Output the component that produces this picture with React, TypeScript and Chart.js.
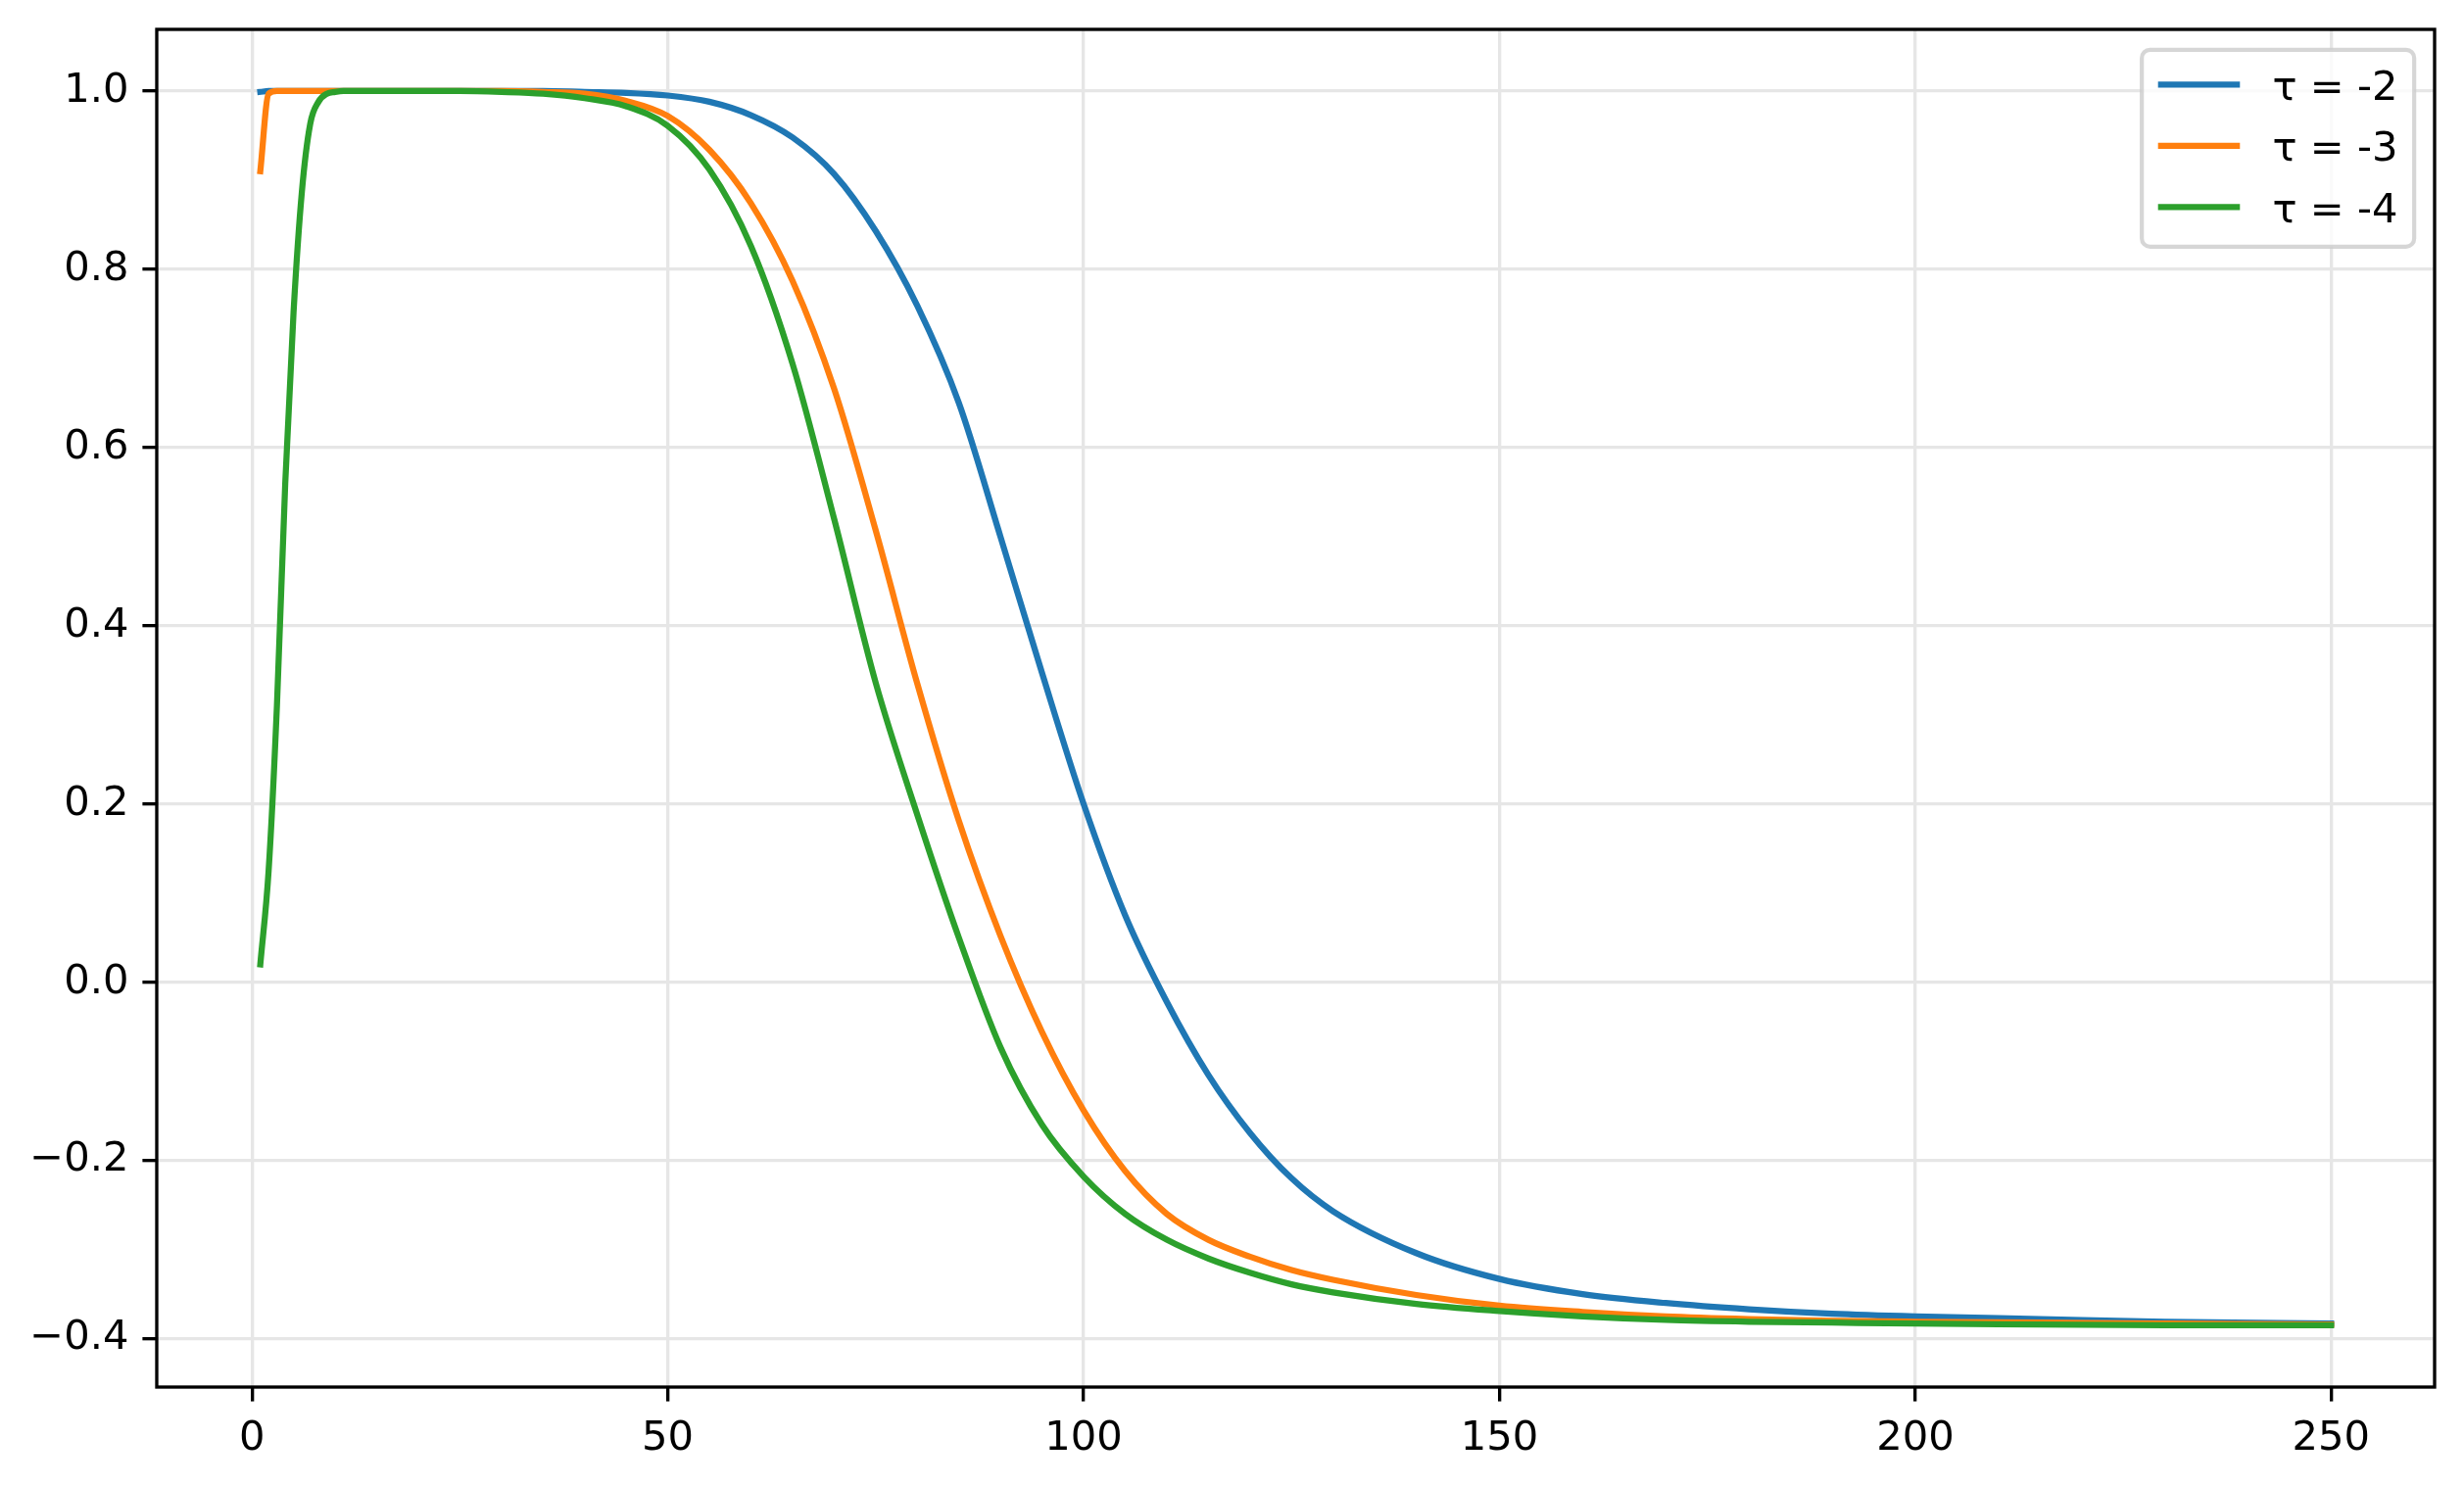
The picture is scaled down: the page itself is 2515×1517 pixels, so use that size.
import React, { useEffect, useRef } from "react";
import { Chart, registerables } from "chart.js";

Chart.register(...registerables);

// ---------- data ----------
const xValues = [1, 2, 3, 4, 5, 6, 7, 8, 9, 10, 11, 12, 15, 20, 25, 30, 35, 40, 45, 50, 55, 60, 65, 70, 75, 80, 85, 90, 95, 100, 105, 110, 115, 120, 125, 130, 140, 150, 160, 170, 180, 190, 200, 215, 230, 250];

const tauMinus2 = [0.999, 1, 1, 1, 1, 1, 1, 1, 1, 1, 1, 1, 1, 1, 1, 1, 1.0, 0.999, 0.998, 0.995, 0.988, 0.973, 0.948, 0.907, 0.843, 0.759, 0.65, 0.5, 0.347, 0.2, 0.075, -0.022, -0.104, -0.169, -0.22, -0.257, -0.304, -0.333, -0.35, -0.36, -0.367, -0.372, -0.375, -0.378, -0.381, -0.383];

const tauMinus3 = [0.91, 0.997, 1, 1, 1, 1, 1, 1, 1, 1, 1, 1, 1, 1, 1, 1, 0.999, 0.997, 0.989, 0.972, 0.934, 0.874, 0.787, 0.666, 0.507, 0.335, 0.181, 0.052, -0.056, -0.144, -0.212, -0.26, -0.289, -0.308, -0.323, -0.334, -0.351, -0.363, -0.37, -0.375, -0.378, -0.38, -0.381, -0.382, -0.383, -0.384];

const tauMinus4 = [0.02, 0.125, 0.31, 0.56, 0.752, 0.887, 0.963, 0.988, 0.997, 0.999, 1, 1, 1, 1, 1, 0.999, 0.997, 0.992, 0.983, 0.961, 0.912, 0.826, 0.694, 0.52, 0.336, 0.188, 0.05, -0.073, -0.16, -0.218, -0.26, -0.289, -0.31, -0.326, -0.339, -0.348, -0.361, -0.369, -0.375, -0.379, -0.381, -0.382, -0.383, -0.384, -0.385, -0.385];

const seriesLabels = ["τ = -2", "τ = -3", "τ = -4"];
const seriesColors = ["#1f77b4", "#ff7f0e", "#2ca02c"];
const xTickValues = [0, 50, 100, 150, 200, 250];
const yTickValues = [-0.4, -0.2, 0, 0.2, 0.4, 0.6, 0.8, 1.0];

// ---------- layout constants ----------
const W = 2515;
const H = 1517;
const FS = 41.67;
const FONT_FAMILY = "'DejaVu Sans', sans-serif";

const framePlugin = {
  id: "frame",
  afterDatasetsDraw(chart: any) {
    const { ctx, chartArea } = chart;
    ctx.save();
    ctx.strokeStyle = "#000";
    ctx.lineWidth = 3.33;
    ctx.lineJoin = "miter";
    ctx.strokeRect(chartArea.left, chartArea.top, chartArea.right - chartArea.left, chartArea.bottom - chartArea.top);
    ctx.restore();
  },
};

const legendPlugin = {
  id: "innerLegend",
  afterDraw(chart: any) {
    const { ctx, chartArea } = chart;
    const datasets = chart.data.datasets;
    ctx.save();
    ctx.font = `${FS}px ${FONT_FAMILY}`;
    const maxText = Math.max(...datasets.map((d: any) => ctx.measureText(d.label).width));
    const borderPad = 0.4 * FS;
    const handleLen = 2.0 * FS;
    const handleTextPad = 0.8 * FS;
    const boxW = borderPad + handleLen + handleTextPad + maxText + borderPad;
    const boxH = 201;
    const right = chartArea.right - 0.5 * FS;
    const top = chartArea.top + 0.5 * FS;
    const left = right - boxW;
    const r = 0.2 * FS;

    ctx.beginPath();
    ctx.moveTo(left + r, top);
    ctx.lineTo(right - r, top);
    ctx.arcTo(right, top, right, top + r, r);
    ctx.lineTo(right, top + boxH - r);
    ctx.arcTo(right, top + boxH, right - r, top + boxH, r);
    ctx.lineTo(left + r, top + boxH);
    ctx.arcTo(left, top + boxH, left, top + boxH - r, r);
    ctx.lineTo(left, top + r);
    ctx.arcTo(left, top, left + r, top, r);
    ctx.closePath();
    ctx.fillStyle = "rgba(255,255,255,0.8)";
    ctx.fill();
    ctx.strokeStyle = "rgba(204,204,204,0.8)";
    ctx.lineWidth = 4.17;
    ctx.stroke();

    datasets.forEach((d: any, i: number) => {
      const cy = top + 35.5 + i * 62.5;
      ctx.beginPath();
      ctx.strokeStyle = d.borderColor;
      ctx.lineWidth = 6.25;
      ctx.lineCap = "square";
      ctx.moveTo(left + borderPad + 3, cy);
      ctx.lineTo(left + borderPad + handleLen - 3, cy);
      ctx.stroke();
      ctx.fillStyle = "#000";
      ctx.textBaseline = "alphabetic";
      ctx.textAlign = "left";
      ctx.fillText(d.label, left + borderPad + handleLen + handleTextPad, cy + 0.3645 * FS);
    });
    ctx.restore();
  },
};

export default function App() {
  const canvasRef = useRef<HTMLCanvasElement | null>(null);

  useEffect(() => {
    document.body.style.margin = "0";
    document.body.style.overflow = "hidden";
    const canvas = canvasRef.current;
    if (!canvas) return;
    const series = [tauMinus2, tauMinus3, tauMinus4];
    const chart = new Chart(canvas, {
      type: "line",
      data: {
        datasets: series.map((vals, i) => ({
          label: seriesLabels[i],
          data: xValues.map((x, j) => ({ x, y: vals[j] })),
          borderColor: seriesColors[i],
          backgroundColor: seriesColors[i],
          borderWidth: 6.25,
          pointRadius: 0,
          pointHoverRadius: 0,
          fill: false,
          cubicInterpolationMode: "monotone",
          borderCapStyle: "square",
          borderJoinStyle: "round",
          order: series.length - i,
        })),
      },
      options: {
        responsive: false,
        animation: false,
        devicePixelRatio: 1,
        events: [],
        layout: { padding: { top: 30, right: 30, left: 0, bottom: 0 } },
        plugins: {
          legend: { display: false },
          tooltip: { enabled: false },
        },
        scales: {
          x: {
            type: "linear",
            min: -11.45,
            max: 262.45,
            afterBuildTicks: (s: any) => {
              s.ticks = xTickValues.map((v) => ({ value: v }));
            },
            afterFit: (s: any) => {
              s.height = H - 1416;
              s.paddingLeft = 0;
              s.paddingRight = 0;
            },
            ticks: {
              color: "#000",
              font: { family: FONT_FAMILY, size: FS },
              padding: 14,
              maxRotation: 0,
              autoSkip: false,
              callback: (v: any) => String(v),
            },
            grid: {
              color: "#e6e6e6",
              lineWidth: 3.33,
              drawTicks: true,
              tickLength: 14.6,
              tickColor: "#000",
              tickWidth: 3.33,
            },
            border: { display: false },
          },
          y: {
            type: "linear",
            min: -0.4543,
            max: 1.0692,
            afterBuildTicks: (s: any) => {
              s.ticks = yTickValues.map((v) => ({ value: v }));
            },
            afterFit: (s: any) => {
              s.width = 160;
              s.paddingTop = 0;
              s.paddingBottom = 0;
            },
            ticks: {
              color: "#000",
              font: { family: FONT_FAMILY, size: FS },
              padding: 14,
              autoSkip: false,
              callback: (v: any) => Number(v).toFixed(1).replace("-", "\u2212"),
            },
            grid: {
              color: "#e6e6e6",
              lineWidth: 3.33,
              drawTicks: true,
              tickLength: 14.6,
              tickColor: "#000",
              tickWidth: 3.33,
            },
            border: { display: false },
          },
        },
      } as any,
      plugins: [framePlugin, legendPlugin],
    });
    return () => chart.destroy();
  }, []);

  return (
    <div style={{ position: "absolute", left: 0, top: 0, width: W, height: H, background: "#fff" }}>
      <canvas ref={canvasRef} width={W} height={H} style={{ display: "block", width: W, height: H }} />
    </div>
  );
}
